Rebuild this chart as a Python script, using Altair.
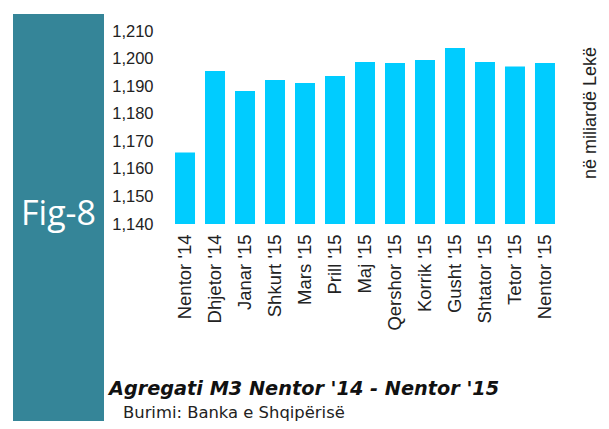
import altair as alt
import pandas as pd

months = ["Nentor '14", "Dhjetor '14", "Janar '15", "Shkurt '15", "Mars '15", "Prill '15",
          "Maj '15", "Qershor '15", "Korrik '15", "Gusht '15", "Shtator '15", "Tetor '15", "Nentor '15"]
m3_values = [1165.9, 1195.5, 1188.2, 1192.2, 1191.1, 1193.7, 1198.8, 1198.4, 1199.5, 1203.8, 1198.8, 1197.1, 1198.4]
y_ticks = [1140, 1150, 1160, 1170, 1180, 1190, 1200, 1210]

title_text = "Agregati M3 Nentor '14 - Nentor '15"
source_text = "Burimi: Banka e Shqipërisë"
unit_text = "në miliardë Lekë"
fig_text = "Fig-8"

df = pd.DataFrame({"month": months, "value": m3_values})

FONT = "Liberation Sans"

bars = alt.Chart(df).mark_bar(color="#00CCFF").encode(
    x=alt.X("month:N", sort=months,
            scale=alt.Scale(paddingInner=0.333, paddingOuter=0.167),
            axis=alt.Axis(title=None, labelAngle=270, labelFont=FONT, labelFontSize=18.5,
                          labelColor="#222222", labelPadding=10, ticks=False, domain=False,
                          labelAlign="right", labelBaseline="middle")),
    y=alt.Y("value:Q", scale=alt.Scale(domain=[1140, 1210], nice=False, zero=False),
            axis=alt.Axis(title=None, values=y_ticks, format=",.0f", labelFont=FONT, labelFontSize=16.5,
                          labelColor="#222222", labelPadding=17, ticks=False, domain=False,
                          grid=False, zindex=1)),
    y2=alt.datum(1140),
)

panel = alt.Chart(pd.DataFrame({"t": [fig_text]})).mark_rect(color="#358598").encode(
    x=alt.value(-157), x2=alt.value(-66), y=alt.value(-17), y2=alt.value(420)
)

fig_label = alt.Chart(pd.DataFrame({"t": [fig_text]})).mark_text(
    font="Open Sans", fontSize=34, color="white", align="center", baseline="alphabetic"
).encode(text="t:N", x=alt.value(-111.5), y=alt.value(194))

unit_label = alt.Chart(pd.DataFrame({"t": [unit_text]})).mark_text(
    font=FONT, fontSize=18, color="#222222", angle=270, align="center", baseline="middle"
).encode(text="t:N", x=alt.value(421), y=alt.value(82))

title_label = alt.Chart(pd.DataFrame({"t": [title_text]})).mark_text(
    font="DejaVu Sans", fontSize=19.3, fontWeight="bold", fontStyle="italic", color="#111111",
    align="left", baseline="alphabetic"
).encode(text="t:N", x=alt.value(-61), y=alt.value(364))

source_label = alt.Chart(pd.DataFrame({"t": [source_text]})).mark_text(
    font="DejaVu Sans", fontSize=16.4, color="#222222", align="left", baseline="alphabetic"
).encode(text="t:N", x=alt.value(-47), y=alt.value(387))

chart = alt.layer(panel, bars, fig_label, unit_label, title_label, source_label).properties(
    width=390, height=193,
    autosize=alt.AutoSizeParams(type="none"),
    padding={"left": 162, "top": 23, "right": 41, "bottom": 197},
).configure_view(stroke=None)

chart.save("out.html", embed_options={"renderer": "svg", "actions": False})
